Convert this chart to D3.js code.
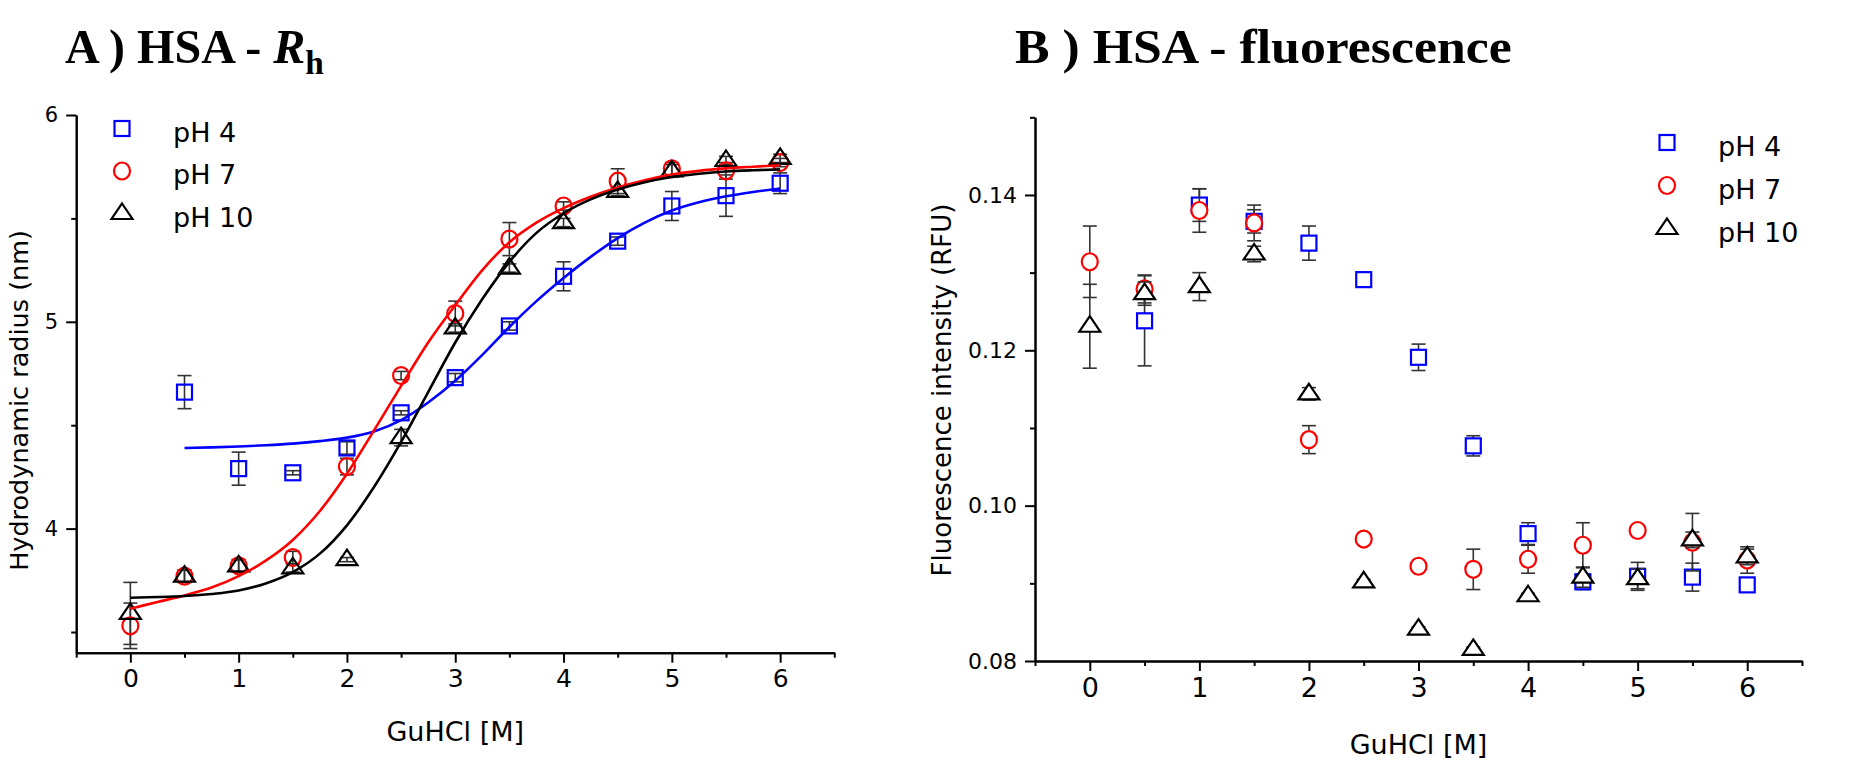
<!DOCTYPE html>
<html>
<head>
<meta charset="utf-8">
<script src="https://cdn.jsdelivr.net/npm/d3@7"></script>
<style>
  html, body { margin:0; padding:0; background:#fff; }
  svg { display:block; }
  .tick text { font-family:"DejaVu Sans", sans-serif; fill:#000; }
  .domain, .tick line { stroke:#000; stroke-width:2; }
</style>
<title></title>
</head>
<body>
<svg id="chart" width="1863" height="763"></svg>
<script>
// GuHCl concentrations (M)
var conc = [0, 0.5, 1, 1.5, 2, 2.5, 3, 3.5, 4, 4.5, 5, 5.5, 6];

// A) hydrodynamic radius (nm)
var rhPH4     = [null, 4.66, 4.29, 4.27, 4.39, 4.56, 4.73, 4.98, 5.22, 5.39, 5.56, 5.61, 5.67];
var rhPH4Err  = [null, 0.08, 0.08, 0.01, 0.03, 0.01, 0.02, 0.02, 0.07, 0.02, 0.07, 0.10, 0.05];
var rhPH7     = [3.53, 3.77, 3.82, 3.86, 4.30, 4.74, 5.04, 5.40, 5.56, 5.68, 5.74, 5.73, 5.77];
var rhPH7Err  = [0.11, 0.03, 0.03, 0.03, 0.04, 0.02, 0.06, 0.08, 0.02, 0.06, 0.03, 0.04, 0.02];
var rhPH10    = [3.59, 3.77, 3.82, 3.81, 3.85, 4.44, 4.97, 5.26, 5.48, 5.63, 5.73, 5.78, 5.79];
var rhPH10Err = [0.15, 0.03, 0.03, 0.02, 0.01, 0.04, 0.02, 0.02, 0.02, 0.02, 0.03, 0.02, 0.02];

// fitted curves
var fitConc  = [0, 0.25, 0.5, 0.75, 1, 1.25, 1.5, 1.75, 2, 2.25, 2.5, 2.75, 3, 3.25, 3.5, 3.75, 4, 4.25, 4.5, 4.75, 5, 5.25, 5.5, 5.75, 6];
var fitPH4   = [null, null, 4.390, 4.393, 4.397, 4.403, 4.411, 4.423, 4.440, 4.470, 4.525, 4.610, 4.715, 4.840, 4.975, 5.100, 5.212, 5.314, 5.405, 5.480, 5.538, 5.578, 5.607, 5.628, 5.645];
var fitPH7   = [3.613, 3.645, 3.677, 3.715, 3.770, 3.845, 3.945, 4.085, 4.265, 4.475, 4.690, 4.900, 5.080, 5.250, 5.385, 5.480, 5.550, 5.605, 5.650, 5.685, 5.712, 5.730, 5.742, 5.750, 5.757];
var fitPH10  = [3.666, 3.669, 3.674, 3.684, 3.701, 3.735, 3.790, 3.879, 4.016, 4.201, 4.419, 4.660, 4.900, 5.110, 5.290, 5.430, 5.525, 5.592, 5.640, 5.675, 5.700, 5.716, 5.727, 5.733, 5.737];

// B) fluorescence intensity (RFU)
var flPH4     = [null, 0.1238, 0.1387, 0.1366, 0.1338, 0.1291, 0.1191, 0.1077, 0.0964, 0.0902, 0.0909, 0.0908, 0.0898];
var flPH4Err  = [null, 0.0058, 0.0021, 0.0015, 0.0022, 0.0004, 0.0017, 0.0013, 0.0014, 0.0010, 0.0018, 0.0018, 0.0005];
var flPH7     = [0.1314, 0.1279, 0.1380, 0.1364, 0.1085, 0.0957, 0.0922, 0.0918, 0.0931, 0.0949, 0.0968, 0.0953, 0.0930];
var flPH7Err  = [0.0046, 0.0018, 0.0028, 0.0023, 0.0018, 0.0003, 0.0005, 0.0026, 0.0018, 0.0029, 0.0004, 0.0037, 0.0017];
var flPH10    = [0.1231, 0.1273, 0.1282, 0.1324, 0.1144, 0.0902, 0.0841, 0.0815, 0.0884, 0.0908, 0.0906, 0.0956, 0.0934];
var flPH10Err = [0.0054, 0.0015, 0.0018, 0.0010, 0.0008, 0.0003, 0.0003, 0.0003, 0.0003, 0.0013, 0.0013, 0.0010, 0.0010];

var seriesNames  = ["pH 4", "pH 7", "pH 10"];
var seriesColors = ["#0000ff", "#ff0000", "#000000"];
var seriesShapes = ["square", "circle", "triangle"];

var xMajor = [0, 1, 2, 3, 4, 5, 6];
var xMinor = [-0.5, 0.5, 1.5, 2.5, 3.5, 4.5, 5.5, 6.5];
var rhMajor = [4, 5, 6];
var rhMinor = [3.5, 4.5, 5.5];
var flMajor = [0.08, 0.10, 0.12, 0.14];
var flMinor = [0.09, 0.11, 0.13, 0.15];

var svg = d3.select("#chart");
svg.append("rect").attr("width", 1863).attr("height", 763).attr("fill", "#fff");

var sans = '"DejaVu Sans", "Open Sans", sans-serif';

function marker(g, shape, cx, cy, color, fill) {
  if (shape == "square") {
    g.append("rect").attr("x", cx - 7.5).attr("y", cy - 7.5)
      .attr("width", 15).attr("height", 15)
      .attr("fill", fill).attr("stroke", color).attr("stroke-width", 2.2);
  } else if (shape == "circle") {
    g.append("ellipse").attr("cx", cx).attr("cy", cy).attr("rx", 8).attr("ry", 8.5)
      .attr("fill", fill).attr("stroke", color).attr("stroke-width", 2.2);
  } else {
    g.append("path").attr("d", "M0,-10L10.5,5.5L-10.5,5.5Z")
      .attr("transform", "translate(" + cx + "," + cy + ")")
      .attr("fill", fill).attr("stroke", color).attr("stroke-width", 2.2);
  }
}

function errorBar(g, x, y, v, e) {
  if (v == null) return;
  var cx = x(v.c), y1 = y(v.v - e), y2 = y(v.v + e);
  g.append("line").attr("x1", cx).attr("x2", cx).attr("y1", y1).attr("y2", y2)
    .attr("stroke", "#333").attr("stroke-width", 1.6);
  [y1, y2].forEach(function (yy) {
    g.append("line").attr("x1", cx - 7).attr("x2", cx + 7).attr("y1", yy).attr("y2", yy)
      .attr("stroke", "#333").attr("stroke-width", 1.6);
  });
}

function drawAxes(x, y, yMajor, yMinor, yFmt, xFont, yFont) {
  var g = svg.append("g");
  var bottom = y.range()[0], left = x.range()[0];
  g.append("g").attr("transform", "translate(0," + bottom + ")")
    .call(d3.axisBottom(x).tickValues(xMinor).tickSize(5).tickSizeOuter(0).tickFormat(""));
  g.append("g").attr("transform", "translate(0," + bottom + ")")
    .call(d3.axisBottom(x).tickValues(xMajor).tickSize(10).tickSizeOuter(0).tickPadding(7).tickFormat(d3.format("d")))
    .selectAll("text").style("font-size", xFont + "px");
  g.append("g").attr("transform", "translate(" + left + ",0)")
    .call(d3.axisLeft(y).tickValues(yMinor).tickSize(5).tickSizeOuter(0).tickFormat(""));
  g.append("g").attr("transform", "translate(" + left + ",0)")
    .call(d3.axisLeft(y).tickValues(yMajor).tickSize(10).tickSizeOuter(0).tickPadding(8).tickFormat(yFmt))
    .selectAll("text").style("font-size", yFont + "px");
}

function legend(lx, ly, gap, tx) {
  var g = svg.append("g");
  seriesNames.forEach(function (name, i) {
    marker(g, seriesShapes[i], lx, ly + i * gap, seriesColors[i], "none");
    g.append("text").attr("x", tx).attr("y", ly + i * gap + 13)
      .style("font-family", sans).style("font-size", "27px").text(name);
  });
}

function title(parts, x0, y0, targetW) {
  var t = svg.append("text").attr("transform", "translate(" + x0 + "," + y0 + ")")
    .style("font-family", '"Liberation Serif", "DejaVu Serif", serif')
    .style("font-weight", "bold").style("font-size", "49px");
  parts.forEach(function (p) {
    var s = t.append("tspan").text(p.text);
    if (p.italic) s.style("font-style", "italic");
    if (p.sub) s.style("font-size", "34px").attr("dy", 11);
  });
  var w = t.node().getBBox().width;
  t.attr("transform", "translate(" + x0 + "," + y0 + ") scale(" + (targetW / w) + ",1)");
}

function points(vals) {
  return conc.map(function (c, i) { return vals[i] == null ? null : { c: c, v: vals[i] }; });
}

// ---------- panel A ----------
var xA = d3.scaleLinear().domain([-0.5, 6.5]).range([76.2, 834.3]);
var yA = d3.scaleLinear().domain([3.4, 6]).range([652.7, 115]);
drawAxes(xA, yA, rhMajor, rhMinor, d3.format("d"), 25, 21);

var rhVals = [rhPH4, rhPH7, rhPH10], rhErrs = [rhPH4Err, rhPH7Err, rhPH10Err];
var fits = [fitPH4, fitPH7, fitPH10];
var gA = svg.append("g");
rhVals.forEach(function (vals, s) {
  points(vals).forEach(function (p, i) { if (p) errorBar(gA, xA, yA, p, rhErrs[s][i]); });
});
rhVals.forEach(function (vals, s) {
  points(vals).forEach(function (p) { if (p) marker(gA, seriesShapes[s], xA(p.c), yA(p.v), seriesColors[s], "none"); });
});
var fitLine = d3.line()
  .defined(function (d) { return d[1] != null; })
  .x(function (d) { return xA(d[0]); })
  .y(function (d) { return yA(d[1]); })
  .curve(d3.curveMonotoneX);
fits.forEach(function (f, s) {
  gA.append("path").datum(fitConc.map(function (c, i) { return [c, f[i]]; }))
    .attr("d", fitLine).attr("fill", "none")
    .attr("stroke", seriesColors[s]).attr("stroke-width", 2.6);
});
legend(122, 128.5, 42.5, 173);

svg.append("text").attr("x", xA(3)).attr("y", 741).attr("text-anchor", "middle")
  .style("font-family", sans).style("font-size", "27px").text("GuHCl [M]");
svg.append("text").attr("transform", "translate(28," + yA(4.62) + ") rotate(-90)")
  .attr("text-anchor", "middle")
  .style("font-family", sans).style("font-size", "25.5px").text("Hydrodynamic radius (nm)");

title([{ text: "A ) HSA - " }, { text: "R", italic: true }, { text: "h", sub: true }], 65, 63, 259);

// ---------- panel B ----------
var xB = d3.scaleLinear().domain([-0.5, 6.5]).range([1035, 1802]);
var yB = d3.scaleLinear().domain([0.08, 0.15]).range([661, 117.3]);
drawAxes(xB, yB, flMajor, flMinor, d3.format(".2f"), 27, 22);

var flVals = [flPH4, flPH7, flPH10], flErrs = [flPH4Err, flPH7Err, flPH10Err];
var gB = svg.append("g");
flVals.forEach(function (vals, s) {
  points(vals).forEach(function (p, i) { if (p) errorBar(gB, xB, yB, p, flErrs[s][i]); });
  points(vals).forEach(function (p) { if (p) marker(gB, seriesShapes[s], xB(p.c), yB(p.v), seriesColors[s], "#fff"); });
});
legend(1667, 142.5, 43, 1718);

svg.append("text").attr("x", xB(3)).attr("y", 754).attr("text-anchor", "middle")
  .style("font-family", sans).style("font-size", "27px").text("GuHCl [M]");
svg.append("text").attr("transform", "translate(951,390) rotate(-90)")
  .attr("text-anchor", "middle")
  .style("font-family", sans).style("font-size", "26px").text("Fluorescence intensity (RFU)");

title([{ text: "B ) HSA - fluorescence" }], 1015, 63, 497);
</script>
</body>
</html>
